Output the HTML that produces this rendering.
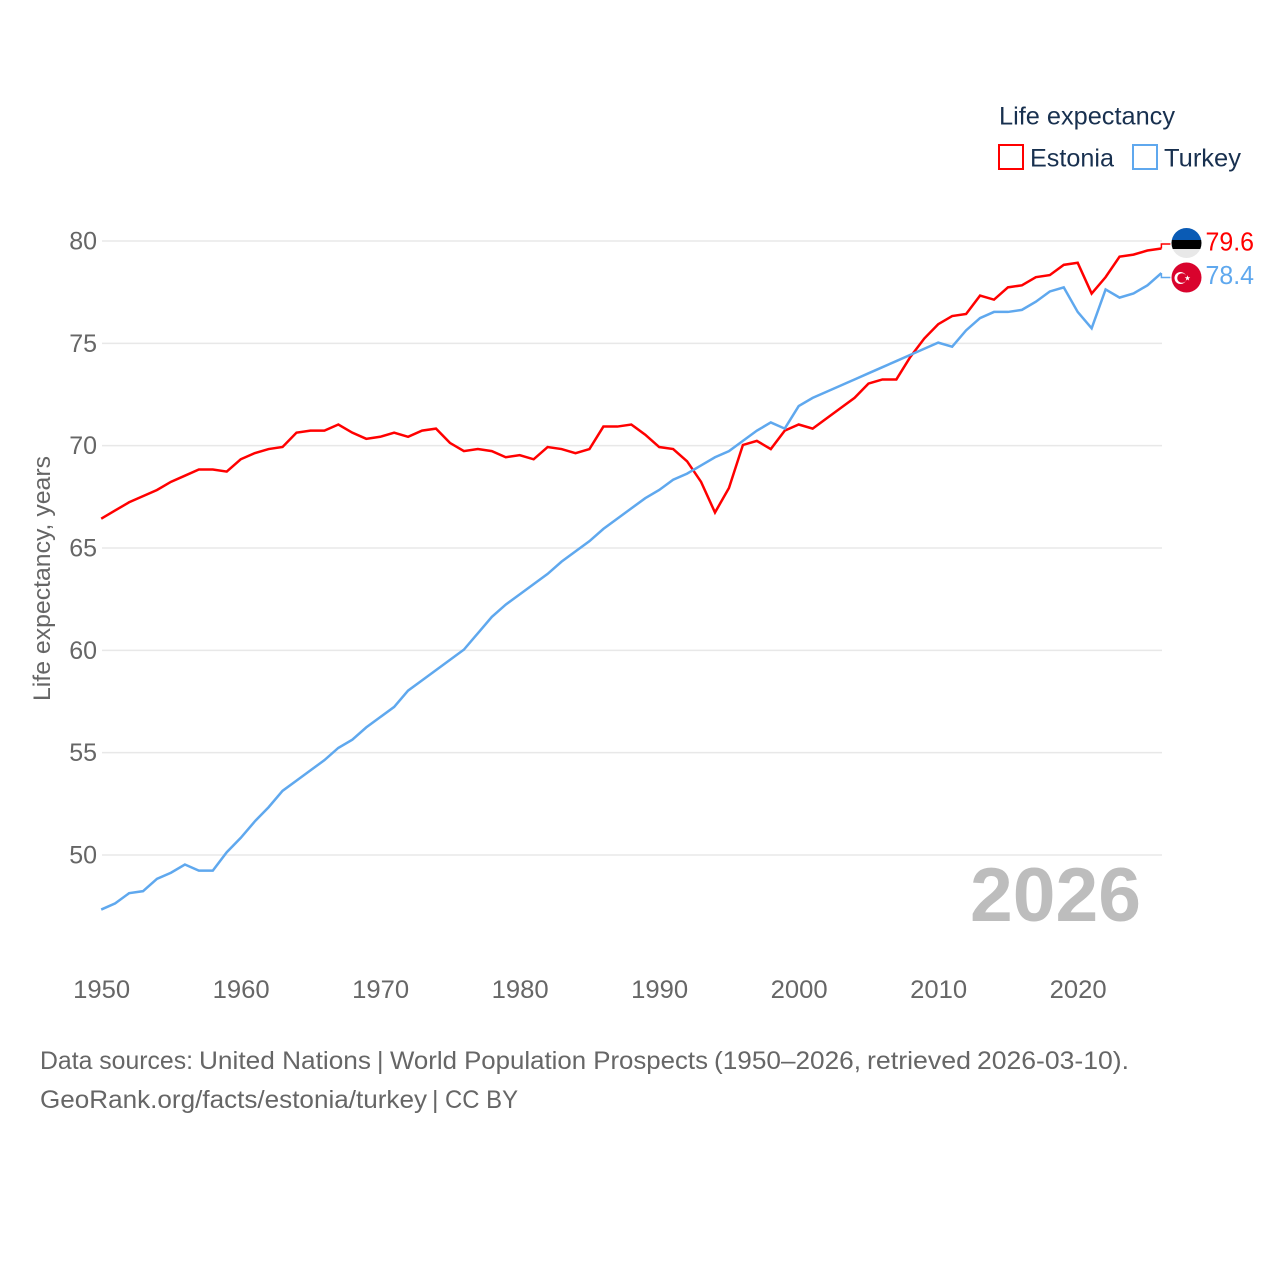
<!DOCTYPE html>
<html lang="en">
<head>
<meta charset="utf-8">
<title>Life expectancy: Estonia and Turkey</title>
<style>
html,body{margin:0;padding:0;background:#fff;width:1280px;height:1280px;overflow:hidden}
svg{display:block}
text{font-family:"Liberation Sans",sans-serif}
</style>
</head>
<body>
<svg id="chart" xmlns="http://www.w3.org/2000/svg" width="1280" height="1280" viewBox="0 0 1280 1280">
  <g id="grid"></g>
  <g id="y-ticks"></g>
  <g id="x-ticks"></g>
  <text transform="translate(50,701) rotate(-90)" font-size="24.5" fill="#666" textLength="245" lengthAdjust="spacingAndGlyphs">Life expectancy, years</text>
  <text x="970" y="921" font-size="76" font-weight="700" fill="#bdbdbd" textLength="171" lengthAdjust="spacingAndGlyphs">2026</text>
  <g id="series"></g>

  <g>
    <text x="999" y="124.5" font-size="25" fill="#18304f" textLength="176" lengthAdjust="spacingAndGlyphs">Life expectancy</text>
    <rect x="999" y="145" width="24" height="24" fill="#fff" stroke="#ff0000" stroke-width="2"/>
    <text x="1030" y="166.5" font-size="25" fill="#18304f" textLength="84" lengthAdjust="spacingAndGlyphs">Estonia</text>
    <rect x="1133" y="145" width="24" height="24" fill="#fff" stroke="#5fa8ee" stroke-width="2"/>
    <text x="1164" y="166.5" font-size="25" fill="#18304f" textLength="77" lengthAdjust="spacingAndGlyphs">Turkey</text>
  </g>

  <defs>
    <clipPath id="flag-clip-ee"><circle cx="1186.5" cy="243" r="15"/></clipPath>
  </defs>
  <g clip-path="url(#flag-clip-ee)">
    <rect x="1171" y="228" width="31" height="12" fill="#0a5bb5"/>
    <rect x="1171" y="240" width="31" height="9" fill="#000"/>
    <rect x="1171" y="249" width="31" height="10" fill="#e8e8e8"/>
  </g>
  <g>
    <circle cx="1186.5" cy="277.5" r="15" fill="#d9032d"/>
    <circle cx="1180.5" cy="278" r="6" fill="#fff"/>
    <circle cx="1182" cy="278" r="4.8" fill="#d9032d"/>
    <polygon points="1187.5,275.3 1188.2,277.3 1190.3,277.3 1188.6,278.6 1189.2,280.6 1187.5,279.4 1185.8,280.6 1186.4,278.6 1184.7,277.3 1186.8,277.3" fill="#fff"/>
  </g>

  <g font-size="25" fill="#666">
    <text y="1069" lengthAdjust="spacingAndGlyphs"><tspan x="40" textLength="153" lengthAdjust="spacingAndGlyphs">Data sources:</tspan> <tspan x="199" textLength="172" lengthAdjust="spacingAndGlyphs">United Nations</tspan> <tspan x="377">|</tspan> <tspan x="390" textLength="318" lengthAdjust="spacingAndGlyphs">World Population Prospects</tspan> <tspan x="714" textLength="147" lengthAdjust="spacingAndGlyphs">(1950–2026,</tspan> <tspan x="867" textLength="104" lengthAdjust="spacingAndGlyphs">retrieved</tspan> <tspan x="977" textLength="152" lengthAdjust="spacingAndGlyphs">2026-03-10).</tspan></text>
    <text y="1108"><tspan x="40" textLength="387" lengthAdjust="spacingAndGlyphs">GeoRank.org/facts/estonia/turkey</tspan> <tspan x="432">|</tspan> <tspan x="445" textLength="73" lengthAdjust="spacingAndGlyphs">CC BY</tspan></text>
  </g>
</svg>
<script>
const firstYear = 1950;
const xTickLabels = [1950, 1960, 1970, 1980, 1990, 2000, 2010, 2020];
const yTickLabels = [50, 55, 60, 65, 70, 75, 80];
const estoniaValues = [66.4,66.8,67.2,67.5,67.8,68.2,68.5,68.8,68.8,68.7,69.3,69.6,69.8,69.9,70.6,70.7,70.7,71.0,70.6,70.3,70.4,70.6,70.4,70.7,70.8,70.1,69.7,69.8,69.7,69.4,69.5,69.3,69.9,69.8,69.6,69.8,70.9,70.9,71.0,70.5,69.9,69.8,69.2,68.2,66.7,67.9,70.0,70.2,69.8,70.7,71.0,70.8,71.3,71.8,72.3,73.0,73.2,73.2,74.3,75.2,75.9,76.3,76.4,77.3,77.1,77.7,77.8,78.2,78.3,78.8,78.9,77.4,78.2,79.2,79.3,79.5,79.6];
const turkeyValues = [47.3,47.6,48.1,48.2,48.8,49.1,49.5,49.2,49.2,50.1,50.8,51.6,52.3,53.1,53.6,54.1,54.6,55.2,55.6,56.2,56.7,57.2,58.0,58.5,59.0,59.5,60.0,60.8,61.6,62.2,62.7,63.2,63.7,64.3,64.8,65.3,65.9,66.4,66.9,67.4,67.8,68.3,68.6,69.0,69.4,69.7,70.2,70.7,71.1,70.8,71.9,72.3,72.6,72.9,73.2,73.5,73.8,74.1,74.4,74.7,75.0,74.8,75.6,76.2,76.5,76.5,76.6,77.0,77.5,77.7,76.5,75.7,77.6,77.2,77.4,77.8,78.4];

const NS = 'http://www.w3.org/2000/svg';
const xScale = function (year) { return 102 + (year - 1950) * (1078.5 - 102) / 70; };
const yScale = function (value) { return 855 - (value - 50) * (855 - 241) / 30; };
const lineX = function (year) { return xScale(year) - 0.8; };
const lineY = function (value) { return yScale(value) - 0.7; };
const gridGroup = document.getElementById('grid');
const yTickGroup = document.getElementById('y-ticks');
const xTickGroup = document.getElementById('x-ticks');
const seriesGroup = document.getElementById('series');

function make(tag, props, parent, content) {
  const node = document.createElementNS(NS, tag);
  Object.keys(props).forEach(function (key) { node.setAttribute(key, props[key]); });
  if (content !== undefined) node.textContent = content;
  parent.appendChild(node);
  return node;
}

yTickLabels.forEach(function (tick) {
  const gridLine = make('line', { x1: 102, x2: 1162, y1: yScale(tick), y2: yScale(tick), stroke: '#e8e8e8', 'stroke-width': 1.5 }, gridGroup);
  
  
  const yLabel = make('text', { x: 97, y: yScale(tick) + 8.5, 'font-size': 25, fill: '#666', 'text-anchor': 'end' }, yTickGroup, String(tick));
  
  
});

xTickLabels.forEach(function (tick) {
  const xLabel = make('text', { x: xScale(tick) - 0.4, y: 998, 'font-size': 25, fill: '#666', 'text-anchor': 'middle', textLength: 57, lengthAdjust: 'spacingAndGlyphs' }, xTickGroup, String(tick));
  
  
});

function linePoints(values) {
  return values.map(function (value, i) {
    return lineX(firstYear + i).toFixed(2) + ',' + lineY(value).toFixed(2);
  }).join(' ');
}

function drawSeries(name, values, color, connectorY, baselineY) {
  const line = make('polyline', { points: linePoints(values), fill: 'none', stroke: color, 'stroke-width': 2.5, 'stroke-linejoin': 'miter' }, seriesGroup);
  
  
  const last = values[values.length - 1];
  const endX = lineX(firstYear + values.length - 1);
  const connector = make('polyline', { points: endX + ',' + lineY(last) + ' ' + endX + ',' + connectorY + ' ' + (endX + 9) + ',' + connectorY, fill: 'none', stroke: color, 'stroke-width': 1.5 }, seriesGroup);
  
  
  const valueLabel = make('text', { x: 1205.5, y: baselineY, 'font-size': 25.5, fill: color, textLength: 48.5, lengthAdjust: 'spacingAndGlyphs' }, seriesGroup, last.toFixed(1));
  
  
}

drawSeries('estonia', estoniaValues, '#ff0000', 244, 250.5);
drawSeries('turkey', turkeyValues, '#5fa8ee', 277.5, 284);
</script>
</body>
</html>
